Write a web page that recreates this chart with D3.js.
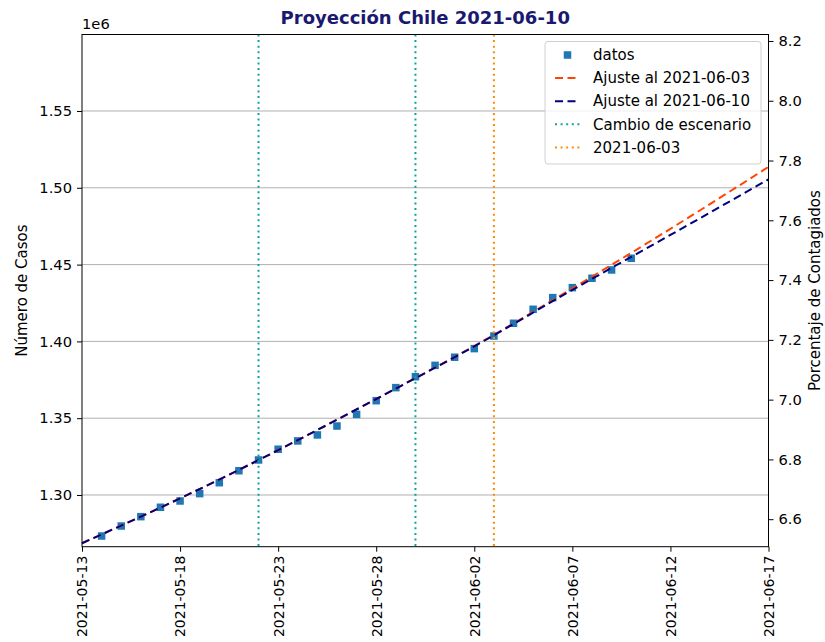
<!DOCTYPE html>
<html>
<head>
<meta charset="utf-8">
<script src="https://cdn.jsdelivr.net/npm/d3@7"></script>
<style>
  html, body { margin: 0; padding: 0; background: #fff; }
  svg text { font-family: "DejaVu Sans", sans-serif; }
</style>
</head>
<body>
<svg id="chart" width="825" height="642"></svg>
<script>
// Daily confirmed cases
const dataDates = ["2021-05-14","2021-05-15","2021-05-16","2021-05-17","2021-05-18","2021-05-19","2021-05-20",
  "2021-05-21","2021-05-22","2021-05-23","2021-05-24","2021-05-25","2021-05-26","2021-05-27","2021-05-28",
  "2021-05-29","2021-05-30","2021-05-31","2021-06-01","2021-06-02","2021-06-03","2021-06-04","2021-06-05",
  "2021-06-06","2021-06-07","2021-06-08","2021-06-09","2021-06-10"];
const cases = [1273300,1279800,1285900,1292000,1296100,1300900,1308000,1315800,1322800,1329800,1335200,
  1339100,1344900,1352500,1361400,1369900,1377000,1384400,1389700,1395300,1403500,1411800,1420900,
  1428500,1435000,1441100,1446500,1454100];

// Fitted curves
const fitDates = ["2021-05-13","2021-05-18","2021-05-23","2021-05-28","2021-06-02","2021-06-07","2021-06-12","2021-06-17"];
const fit0603 = [1268600,1297800,1329200,1362500,1397000,1434500,1473300,1513600];
const fit0610 = [1268600,1297800,1329200,1362500,1396800,1433500,1469300,1505500];

// Reference dates
const scenarioChanges = ["2021-05-22","2021-05-30"];
const markDate = ["2021-06-03"];

// Axis settings
const xDomain = ["2021-05-13","2021-06-17"];
const xTicks = ["2021-05-13","2021-05-18","2021-05-23","2021-05-28","2021-06-02","2021-06-07","2021-06-12","2021-06-17"];
const yDomain = [1266340, 1599800];
const yTicks = [1300000,1350000,1400000,1450000,1500000,1550000];
const pctTicks = [6.6,6.8,7.0,7.2,7.4,7.6,7.8,8.0,8.2];
const population = 19458310;

const legendItems = [
  {label: "datos", type: "marker", color: "#1f77b4"},
  {label: "Ajuste al 2021-06-03", type: "dash", color: "#ff4500"},
  {label: "Ajuste al 2021-06-10", type: "dash", color: "#000080"},
  {label: "Cambio de escenario", type: "dot", color: "#12a0a0"},
  {label: "2021-06-03", type: "dot", color: "#ff8c00"}
];

const parse = d3.utcParse("%Y-%m-%d");
const svg = d3.select("#chart");
const m = {left: 82, right: 768.5, top: 34.5, bottom: 546.7};

const x = d3.scaleUtc().domain(xDomain.map(parse)).range([m.left, m.right]);
const y = d3.scaleLinear().domain(yDomain).range([m.bottom, m.top]);
const y2 = d3.scaleLinear().domain(yDomain.map(v => v / population * 100)).range([m.bottom, m.top]);

// Horizontal grid
svg.append("g").selectAll("line").data(yTicks).join("line")
  .attr("x1", m.left).attr("x2", m.right)
  .attr("y1", d => y(d)).attr("y2", d => y(d))
  .attr("stroke", "#b0b0b0").attr("stroke-width", 1);

const plot = svg.append("g");

// Data markers
const sq = 7.5;
plot.append("g").selectAll("rect").data(dataDates.map((d, i) => ({d: parse(d), v: cases[i]}))).join("rect")
  .attr("x", p => x(p.d) - sq / 2).attr("y", p => y(p.v) - sq / 2)
  .attr("width", sq).attr("height", sq).attr("fill", "#1f77b4");

// Fit lines
const line = d3.line().x(p => x(p.d)).y(p => y(p.v)).curve(d3.curveMonotoneX);
[[fit0603, "#ff4500"], [fit0610, "#000080"]].forEach(([vals, col]) => {
  plot.append("path")
    .datum(fitDates.map((d, i) => ({d: parse(d), v: vals[i]})))
    .attr("d", line).attr("fill", "none")
    .attr("stroke", col).attr("stroke-width", 2)
    .attr("stroke-dasharray", "8,4.5");
});

// Vertical reference lines
const vlines = scenarioChanges.map(d => ({d, c: "#12a0a0"})).concat(markDate.map(d => ({d, c: "#ff8c00"})));
plot.append("g").selectAll("line").data(vlines).join("line")
  .attr("x1", v => x(parse(v.d))).attr("x2", v => x(parse(v.d)))
  .attr("y1", m.top).attr("y2", m.bottom)
  .attr("stroke", v => v.c).attr("stroke-width", 2)
  .attr("stroke-dasharray", "2,3.6");

// Axes
const fs = "14.7px";
const xAxis = svg.append("g").attr("transform", `translate(0,${m.bottom})`)
  .call(d3.axisBottom(x).tickValues(xTicks.map(parse)).tickFormat(d3.utcFormat("%Y-%m-%d")).tickSize(5).tickPadding(4));
xAxis.selectAll("text")
  .attr("transform", "rotate(-90)")
  .attr("text-anchor", "end").attr("dy", "0.35em")
  .attr("x", -9).attr("y", 0)
  .style("font-size", "14px");

const yAxis = svg.append("g").attr("transform", `translate(${m.left},0)`)
  .call(d3.axisLeft(y).tickValues(yTicks).tickFormat(v => (v / 1e6).toFixed(2)).tickSize(5).tickPadding(5));
yAxis.selectAll("text").style("font-size", fs);

const y2Axis = svg.append("g").attr("transform", `translate(${m.right},0)`)
  .call(d3.axisRight(y2).tickValues(pctTicks).tickFormat(v => v.toFixed(1)).tickSize(5).tickPadding(5));
y2Axis.selectAll("text").style("font-size", fs);

[xAxis, yAxis, y2Axis].forEach(a => {
  a.select(".domain").remove();
  a.selectAll("line").attr("stroke", "#000");
  a.selectAll("text").attr("fill", "#000");
});

// Frame
svg.append("rect").attr("x", m.left).attr("y", m.top)
  .attr("width", m.right - m.left).attr("height", m.bottom - m.top)
  .attr("fill", "none").attr("stroke", "#000").attr("stroke-width", 1);

// Offset label, axis titles, title
svg.append("text").attr("x", m.left).attr("y", 29).text("1e6").style("font-size", fs);
svg.append("text").attr("transform", `translate(27,${(m.top + m.bottom) / 2}) rotate(-90)`)
  .attr("text-anchor", "middle").style("font-size", "15px").text("Número de Casos");
svg.append("text").attr("transform", `translate(820,${(m.top + m.bottom) / 2}) rotate(-90)`)
  .attr("text-anchor", "middle").style("font-size", "15px").text("Porcentaje de Contagiados");
svg.append("text").attr("x", (m.left + m.right) / 2).attr("y", 24)
  .attr("text-anchor", "middle").style("font-size", "18px").style("font-weight", "bold")
  .attr("fill", "#191970").text("Proyección Chile 2021-06-10");

// Legend
const lg = svg.append("g").attr("transform", "translate(545,41.5)");
lg.append("rect").attr("width", 216).attr("height", 122.5).attr("rx", 3)
  .attr("fill", "#fff").attr("fill-opacity", 0.8).attr("stroke", "#d0d0d0");
legendItems.forEach((it, i) => {
  const cy = 13.5 + i * 23.1;
  const g = lg.append("g");
  if (it.type === "marker") {
    g.append("rect").attr("x", 22.5 - sq / 2).attr("y", cy - sq / 2)
      .attr("width", sq).attr("height", sq).attr("fill", it.color);
  } else {
    g.append("line").attr("x1", 10).attr("x2", 35).attr("y1", cy).attr("y2", cy)
      .attr("stroke", it.color).attr("stroke-width", 2)
      .attr("stroke-dasharray", it.type === "dash" ? "8,4.5" : "2,3.6");
  }
  g.append("text").attr("x", 48).attr("y", cy).attr("dy", "0.35em")
    .style("font-size", "15px").text(it.label);
});
</script>
</body>
</html>
